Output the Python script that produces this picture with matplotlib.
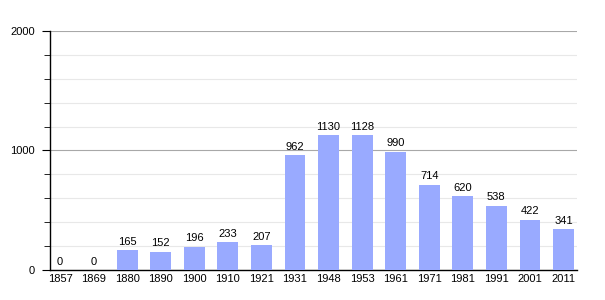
import matplotlib.pyplot as plt
from matplotlib.ticker import MultipleLocator

years = ['1857', '1869', '1880', '1890', '1900', '1910', '1921', '1931',
         '1948', '1953', '1961', '1971', '1981', '1991', '2001', '2011']
population = [0, 0, 165, 152, 196, 233, 207, 962,
              1130, 1128, 990, 714, 620, 538, 422, 341]

plt.rcParams['font.family'] = ['Liberation Sans', 'DejaVu Sans']

fig = plt.figure(figsize=(6.05, 3.0), dpi=100)
ax = fig.add_axes([0.0826, 0.1, 0.871, 0.7967])

x = range(len(years))
ax.bar(x, population, width=0.62, color='#99aaff', zorder=3)
for xi, v in zip(x, population):
    ax.text(xi, v + 28, str(v), ha='center', va='bottom', fontsize=8, color='#000000', zorder=4)

ax.set_xlim(-0.3, 15.4)
ax.set_ylim(0, 2000)
ax.set_xticks(list(x))
ax.set_xticklabels(years, fontsize=8)
ax.yaxis.set_major_locator(MultipleLocator(1000))
ax.yaxis.set_minor_locator(MultipleLocator(200))
ax.tick_params(axis='y', which='major', length=6, labelsize=8, pad=5)
ax.tick_params(axis='y', which='minor', length=4)
ax.tick_params(axis='x', length=0, pad=3)

ax.grid(axis='y', which='minor', color='#e8e8e8', linewidth=0.8, zorder=0)
ax.grid(axis='y', which='major', color='#a8a8a8', linewidth=0.8, zorder=1)

for side in ['top', 'right']:
    ax.spines[side].set_visible(False)
ax.spines['left'].set_linewidth(1.0)
ax.spines['bottom'].set_linewidth(1.0)

fig.savefig('out.png', dpi=100)
